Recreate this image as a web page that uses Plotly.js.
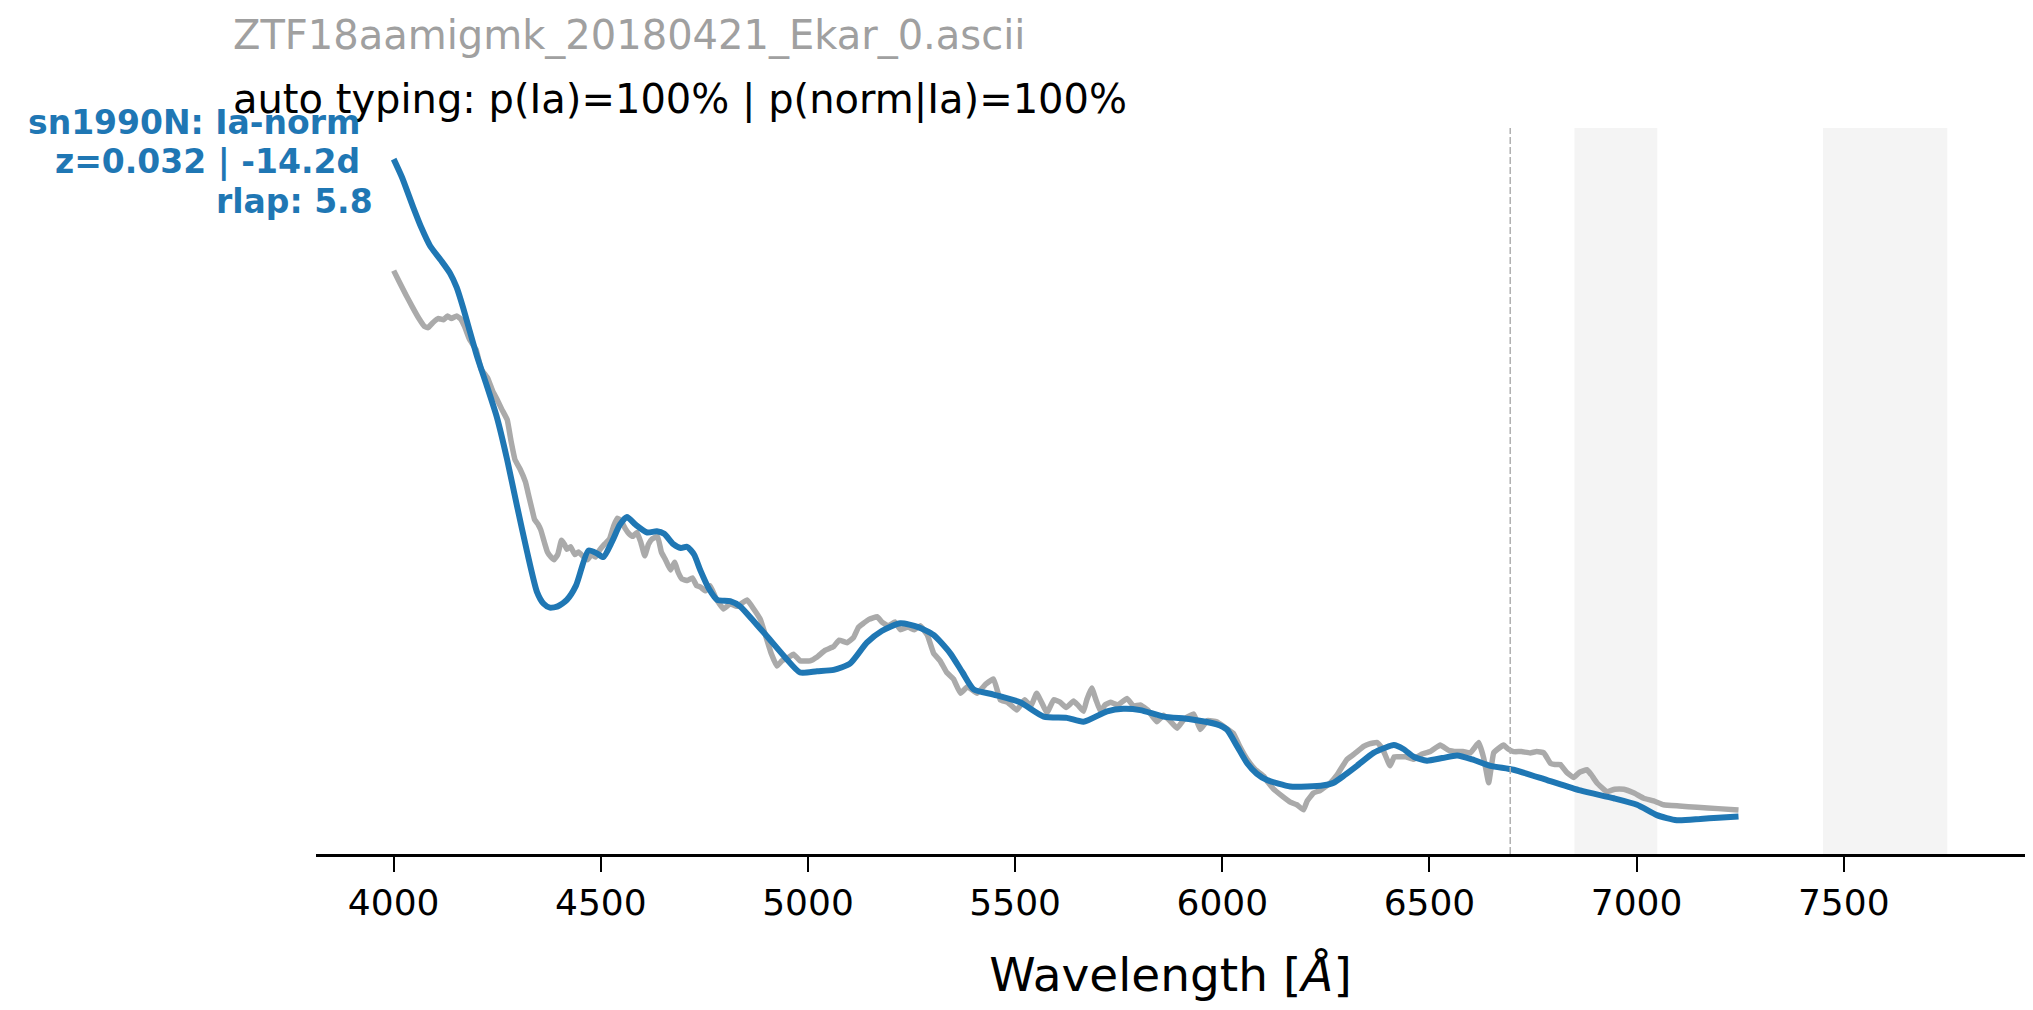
<!DOCTYPE html>
<html>
<head>
<meta charset="utf-8">
<script src="https://cdn.plot.ly/plotly-3.0.1.min.js"></script>
<style>
  html, body { margin: 0; padding: 0; background: #ffffff; }
  #chart { width: 2033px; height: 1010px; }
</style>
</head>
<body>
<div id="chart"></div>
<script>
// Observed spectrum (relative flux vs wavelength in Angstrom)
const specWave = [4000,4014,4030,4045,4061,4074,4083,4095,4108,4120,4130,4139,4152,4161,4171,4183,4199,4211,4227,4239,
  4249,4261,4274,4283,4293,4305,4318,4324,4333,4340,4349,4355,4365,4371,4380,4387,4396,4405,4412,4418,
  4427,4437,4446,4459,4468,4477,4487,4496,4509,4521,4531,4540,4549,4559,4568,4577,4587,4596,4606,4615,
  4624,4637,4646,4656,4668,4678,4687,4696,4709,4721,4731,4740,4753,4764,4778,4796,4812,4828,4853,4869,
  4885,4901,4912,4925,4937,4950,4965,4981,5005,5022,5041,5062,5075,5094,5110,5122,5134,5147,5167,5178,
  5194,5210,5223,5241,5257,5271,5288,5303,5319,5335,5351,5368,5385,5408,5429,5448,5464,5482,5504,5523,
  5538,5552,5577,5593,5609,5623,5641,5651,5665,5673,5685,5695,5706,5717,5730,5748,5770,5786,5802,5820,
  5842,5858,5873,5891,5908,5931,5947,5964,5987,6005,6027,6042,6060,6080,6100,6111,6124,6143,6164,6180,
  6196,6205,6220,6236,6261,6277,6301,6318,6341,6355,6374,6387,6405,6415,6430,6443,6462,6481,6502,6526,
  6546,6567,6581,6599,6609,6619,6631,6643,6655,6665,6679,6690,6703,6722,6743,6759,6776,6792,6803,6816,
  6831,6848,6862,6880,6891,6904,6928,6947,6969,6994,7017,7041,7065,7103,7146,7197,7246];
const specFlux = [4.50,4.41,4.31,4.22,4.13,4.07,4.06,4.10,4.13,4.12,4.15,4.13,4.15,4.13,4.07,3.97,3.89,3.74,3.67,3.57,
  3.51,3.43,3.35,3.19,3.04,2.97,2.87,2.79,2.67,2.58,2.54,2.50,2.39,2.33,2.29,2.27,2.31,2.42,2.39,2.35,
  2.37,2.31,2.33,2.29,2.27,2.31,2.29,2.34,2.39,2.43,2.53,2.59,2.57,2.51,2.47,2.45,2.48,2.41,2.30,2.39,
  2.43,2.45,2.33,2.27,2.19,2.25,2.17,2.12,2.11,2.13,2.07,2.06,2.03,2.07,1.97,1.89,1.93,1.91,1.96,1.89,
  1.81,1.65,1.54,1.45,1.49,1.51,1.54,1.49,1.49,1.52,1.57,1.60,1.65,1.63,1.67,1.75,1.78,1.81,1.83,1.79,
  1.76,1.79,1.73,1.75,1.73,1.76,1.69,1.55,1.49,1.40,1.35,1.24,1.29,1.24,1.31,1.35,1.19,1.17,1.11,1.19,
  1.14,1.24,1.09,1.19,1.17,1.13,1.18,1.15,1.10,1.19,1.28,1.19,1.10,1.15,1.17,1.15,1.20,1.14,1.15,1.11,
  1.02,1.07,1.03,0.97,1.04,1.08,0.96,1.03,1.02,0.98,0.93,0.83,0.73,0.65,0.60,0.55,0.50,0.45,0.40,0.38,
  0.34,0.41,0.47,0.49,0.55,0.61,0.73,0.77,0.83,0.85,0.86,0.81,0.68,0.75,0.75,0.75,0.73,0.77,0.79,0.84,
  0.80,0.79,0.79,0.78,0.82,0.86,0.74,0.55,0.78,0.81,0.84,0.81,0.79,0.79,0.78,0.79,0.78,0.70,0.69,0.69,
  0.63,0.59,0.63,0.65,0.61,0.55,0.48,0.50,0.50,0.47,0.43,0.41,0.38,0.37,0.36,0.35,0.34];

// Best-match template: sn1990N (Ia-norm)
const tmplWave = [4000,4020,4047,4067,4088,4114,4136,4152,4167,4183,4201,4225,4249,4274,4298,4322,4346,4362,4377,4396,
  4418,4440,4470,4490,4506,4527,4546,4563,4584,4612,4635,4653,4675,4693,4708,4725,4740,4762,4781,4812,
  4836,4865,4901,4944,4981,5022,5062,5102,5142,5178,5223,5266,5303,5343,5373,5400,5448,5512,5569,5625,
  5665,5722,5761,5802,5858,5923,5987,6011,6036,6060,6083,6108,6164,6205,6245,6269,6296,6325,6365,6393,
  6414,6437,6462,6494,6531,6567,6603,6647,6703,6784,6864,6945,7001,7049,7097,7154,7197,7246];
const tmplFlux = [5.36,5.22,4.99,4.83,4.69,4.58,4.48,4.37,4.22,4.04,3.84,3.61,3.37,3.04,2.68,2.33,2.02,1.93,1.90,1.91,
  1.96,2.07,2.34,2.32,2.29,2.41,2.54,2.60,2.54,2.48,2.49,2.47,2.39,2.36,2.37,2.31,2.19,2.04,1.96,1.95,
  1.91,1.81,1.68,1.52,1.40,1.41,1.42,1.47,1.63,1.72,1.78,1.75,1.69,1.55,1.40,1.27,1.23,1.17,1.06,1.05,
  1.02,1.10,1.12,1.11,1.06,1.04,1.00,0.96,0.83,0.70,0.62,0.57,0.52,0.52,0.53,0.55,0.61,0.68,0.78,0.82,
  0.84,0.81,0.75,0.72,0.74,0.76,0.73,0.68,0.65,0.57,0.49,0.43,0.38,0.30,0.26,0.27,0.28,0.29];

// Masked (telluric) wavelength bands and the marker line
const maskStart = [6850, 7450];
const maskEnd = [7050, 7750];
const markerWave = 6695;

const xTicks = [4000, 4500, 5000, 5500, 6000, 6500, 7000, 7500];

const fileName = 'ZTF18aamigmk_20180421_Ekar_0.ascii';
const typingText = 'auto typing: p(Ia)=100% | p(norm|Ia)=100%';
const matchLines = ['sn1990N: Ia-norm', 'z=0.032 | -14.2d', 'rlap: 5.8'];

const FONT = 'DejaVu Sans, sans-serif';
const BLUE = '#1f77b4';

const traces = [
  {
    x: specWave, y: specFlux, type: 'scatter', mode: 'lines',
    line: { color: '#aaaaaa', width: 5.5, shape: 'spline', smoothing: 0.3 }, hoverinfo: 'skip', showlegend: false
  },
  {
    x: tmplWave, y: tmplFlux, type: 'scatter', mode: 'lines',
    line: { color: BLUE, width: 6, shape: 'spline', smoothing: 0.6 }, hoverinfo: 'skip', showlegend: false
  }
];

const shapes = maskStart.map((s, i) => ({
  type: 'rect', xref: 'x', yref: 'paper', x0: s, x1: maskEnd[i], y0: 0, y1: 1,
  fillcolor: '#f4f4f4', line: { width: 0 }, layer: 'below'
}));
shapes.push({
  type: 'line', xref: 'x', yref: 'paper', x0: markerWave, x1: markerWave, y0: 0, y1: 1,
  line: { color: '#b0b0b0', width: 1.5, dash: '7px,3px' }, layer: 'above'
});

const annotations = [
  {
    text: fileName, xref: 'paper', yref: 'paper', x: -0.0497, y: 1.128,
    xanchor: 'left', yanchor: 'middle', showarrow: false,
    font: { family: FONT, size: 40, color: '#a0a0a0' }
  },
  {
    text: typingText, xref: 'paper', yref: 'paper', x: -0.0497, y: 1.0386,
    xanchor: 'left', yanchor: 'middle', showarrow: false,
    font: { family: FONT, size: 40, color: '#000000' }
  }
];
const matchX = [0.0272, 0.0272, 0.0348];
const matchY = [1.0069, 0.9532, 0.8994];
matchLines.forEach((t, i) => {
  annotations.push({
    text: '<b>' + t + '</b>', xref: 'paper', yref: 'paper', x: matchX[i], y: matchY[i],
    xanchor: 'right', yanchor: 'middle', showarrow: false,
    font: { family: FONT, size: 33, color: BLUE }
  });
});

const layout = {
  width: 2033, height: 1010,
  margin: { l: 316, r: 8, t: 128, b: 156 },
  paper_bgcolor: '#ffffff', plot_bgcolor: '#ffffff',
  showlegend: false,
  xaxis: {
    range: [3812.5, 7937.5],
    tickmode: 'array', tickvals: xTicks, ticktext: xTicks.map(String),
    ticks: 'outside', ticklen: 15, tickwidth: 2, tickcolor: '#000000',
    showline: true, linecolor: '#000000', linewidth: 3,
    showgrid: false, zeroline: false,
    tickfont: { family: FONT, size: 36, color: '#000000' },
    title: { text: 'Wavelength [<i>Å</i>]', font: { family: FONT, size: 47, color: '#000000' }, standoff: 36 }
  },
  yaxis: {
    range: [0, 5.6], visible: false, showgrid: false, zeroline: false
  },
  shapes: shapes,
  annotations: annotations
};

Plotly.newPlot('chart', traces, layout, { staticPlot: true, displayModeBar: false });
</script>
</body>
</html>
